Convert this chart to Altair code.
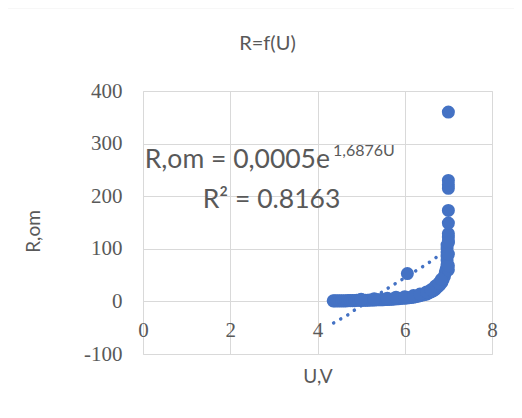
import altair as alt
import pandas as pd

# ---- data ----
band_u = [4.36, 4.40, 4.45, 4.50, 4.55, 4.60, 4.65, 4.70, 4.75, 4.80, 4.85, 4.90, 4.95,
          5.00, 5.05, 5.10, 5.15, 5.20, 5.25, 5.30, 5.35, 5.40, 5.45, 5.50, 5.55, 5.60,
          5.65, 5.70, 5.75, 5.80, 5.85, 5.90, 5.95, 6.00, 6.05, 6.10, 6.15, 6.20, 6.25,
          6.30, 6.35, 6.40, 6.45, 6.50, 6.55, 6.60, 6.65, 6.70, 6.75, 6.80, 6.85, 6.88,
          6.91, 6.93, 6.95]
band_r = [1, 1, 1, 1, 1, 1, 1, 1.5, 1.5, 1.5, 1.5, 2, 2,
          2, 2, 2, 2, 2.5, 2.5, 2.5, 3, 3, 3, 3, 3.5, 3.5,
          4, 4, 4.5, 5, 5, 5.5, 6, 6, 6.5, 7, 7.5, 8, 9,
          10, 11, 12, 13, 14, 16, 18, 20, 23, 27, 31, 36, 42,
          48, 55, 62]

upper_u = [5.0, 5.3, 5.6, 5.8, 6.0, 6.2, 6.35, 6.5, 6.6, 6.7, 6.78, 6.84]
upper_r = [4, 5, 6, 8, 9, 11, 14, 18, 22, 29, 35, 42]

column_u = [6.97, 6.97, 6.97, 6.97, 6.97, 6.97, 7.0, 7.0, 7.0, 7.0, 7.0, 7.0,
            7.0, 7.0, 7.0, 7.0, 7.0, 7.0, 7.0]
column_r = [70, 78, 86, 94, 101, 107, 60, 68, 115, 122, 129, 149, 173,
            215, 222, 230, 360, 112, 90]

outlier_u = [6.06]
outlier_r = [53]

trend_u = [4.37, 4.54, 4.71, 4.84, 5.65, 5.81, 6.29, 6.47, 6.63, 6.79]
trend_r = [-41, -33, -25, -17, 27, 35, 60, 69, 78, 88]

x_ticks = [0, 2, 4, 6, 8]
y_ticks = [-100, 0, 100, 200, 300, 400]

title_text = "R=f(U)"
x_title = "U,V"
y_title = "R,om"
eq_main = "R,om = 0,0005e"
eq_sup = "1,6876U"
eq_r2 = "R\u00b2 = 0.8163"

# ---- tables ----
points = pd.DataFrame({
    "U": band_u + upper_u + column_u + outlier_u,
    "R": band_r + upper_r + column_r + outlier_r,
})
trend = pd.DataFrame({"U": trend_u, "R": trend_r})

BLUE = "#4472C4"
GREY = "#595959"
GRID = "#d9d9d9"
SANS = "Lato"
SERIF = "Liberation Serif"

W, H = 349, 263

x_scale = alt.Scale(domain=[0, 8], nice=False)
y_scale = alt.Scale(domain=[-100, 400], nice=False)

x_axis = alt.Axis(
    values=x_ticks, title=x_title, offset=-52.5, grid=True, gridColor=GRID,
    domain=False, ticks=False, tickSize=0, labelFont=SERIF, labelFontSize=21,
    labelColor=GREY, labelPadding=29, labelBaseline="middle", labelFlush=False,
    labelExpr="'' + datum.value",
    titleFont=SANS, titleFontSize=19, titleColor=GREY, titleFontWeight="normal",
    titleY=75, titleBaseline="middle",
)
y_axis = alt.Axis(
    values=y_ticks, title=y_title, grid=True, gridColor=GRID, domain=False,
    ticks=False, tickSize=0, labelFont=SERIF, labelFontSize=21, labelColor=GREY,
    labelPadding=21, labelBaseline="middle", labelFlush=False,
    labelExpr="'' + datum.value",
    titleFont=SANS, titleFontSize=19, titleColor=GREY, titleFontWeight="normal",
    titleX=-110, titleY=140, titleBaseline="middle", titleAlign="center",
)

trend_layer = alt.Chart(trend).mark_line(
    color=BLUE, strokeDash=[0.1, 8], strokeCap="round", strokeWidth=3.5
).encode(
    x=alt.X("U:Q", scale=x_scale, axis=x_axis),
    y=alt.Y("R:Q", scale=y_scale, axis=y_axis),
)

point_layer = alt.Chart(points).mark_circle(
    color=BLUE, size=170, opacity=1
).encode(
    x=alt.X("U:Q", scale=x_scale, axis=x_axis),
    y=alt.Y("R:Q", scale=y_scale, axis=y_axis),
)

blank = alt.Data(values=[{}])

title_mark = alt.Chart(blank).mark_text(
    font=SANS, fontSize=20, color=GREY, align="center", baseline="middle"
).encode(x=alt.value(124.5), y=alt.value(-47), text=alt.value(title_text))

eq1 = alt.Chart(blank).mark_text(
    font=SANS, fontSize=26.5, color=GREY, align="right", baseline="middle"
).encode(x=alt.value(187), y=alt.value(69), text=alt.value(eq_main))

eq1s = alt.Chart(blank).mark_text(
    font=SANS, fontSize=16, color=GREY, align="left", baseline="middle"
).encode(x=alt.value(190), y=alt.value(60), text=alt.value(eq_sup))

eq2 = alt.Chart(blank).mark_text(
    font=SANS, fontSize=26.5, color=GREY, align="center", baseline="middle"
).encode(x=alt.value(128.5), y=alt.value(109), text=alt.value(eq_r2))

border_left = alt.Chart(blank).mark_rule(color=GRID, strokeWidth=1.5).encode(
    x=alt.value(-136), y=alt.value(-83), y2=alt.value(H + 60)
)
border_top = alt.Chart(blank).mark_rule(color="#efefef", strokeWidth=1).encode(
    y=alt.value(-83), x=alt.value(-136), x2=alt.value(W + 30)
)

chart = alt.layer(
    border_left, border_top, trend_layer, point_layer, title_mark, eq1, eq1s, eq2
).properties(
    width=W,
    height=H,
    autosize=alt.AutoSizeParams(type="none"),
    padding={"left": 135, "top": 83, "right": 22, "bottom": 56},
).configure_view(strokeWidth=0).configure(background="white")

chart.save("out.html", embed_options={"renderer": "svg", "actions": False})
